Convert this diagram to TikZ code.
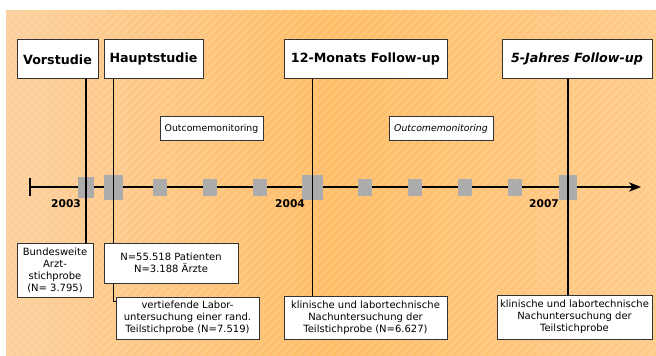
\documentclass[tikz,border=0pt]{standalone}
\usepackage{fontspec}
\setmainfont{DejaVu Sans}
\usetikzlibrary{arrows.meta,backgrounds,patterns.meta}
\definecolor{mkgray}{RGB}{172,172,172}
\definecolor{bgleft}{RGB}{252,208,158}
\definecolor{bgmid}{RGB}{255,190,104}
\definecolor{bgright}{RGB}{255,204,140}
\begin{document}
\begin{tikzpicture}[x=0.75pt,y=-0.75pt,
  box/.style={draw=black!80,fill=white,line width=0.75pt,inner sep=0pt,align=center,font=\fontsize{7.5}{9}\selectfont},
  title/.style={box,minimum height=29.25pt,font=\bfseries\fontsize{9.5}{11}\selectfont},
  note/.style={box,minimum height=18pt,font=\fontsize{7}{8}\selectfont},
  mk/.style={fill=mkgray,inner sep=0pt,minimum width=10.5pt,minimum height=12.75pt},
  year/.style={font=\bfseries\fontsize{8}{9}\selectfont}]
\useasboundingbox (0,0) rectangle (656,356);
\node[title,minimum width=60.75pt] (vs) at (57.5,59.5) {Vorstudie};
\node[title,minimum width=74.25pt] (hs) at (153.5,59.5) {Hauptstudie};
\node[title,minimum width=122.25pt] (mf) at (365.5,59.5) {12-Monats Follow-up};
\node[title,minimum width=112.5pt,font=\bfseries\itshape\fontsize{9.5}{11}\selectfont] (jf) at (577,59.5) {5-Jahres Follow-up};
\node[note,minimum width=77.25pt] (om1) at (211.5,129) {Outcomemonitoring};
\node[note,minimum width=78pt,font=\itshape\fontsize{7}{8}\selectfont] (om2) at (441,129) {Outcomemonitoring};
\node[box,minimum width=57pt,minimum height=40.5pt] (bw) at (55,270) {Bundesweite\\Arzt-\\stichprobe\\(N= 3.795)};
\node[box,minimum width=100.5pt,minimum height=30pt] (np) at (171,263) {N=55.518 Patienten\\N=3.188 Ärzte};
\node[box,minimum width=107.25pt,minimum height=31.5pt] (vl) at (187.5,318) {vertiefende Labor-\\untersuchung einer rand.\\Teilstichprobe (N=7.519)};
\node[box,minimum width=122.25pt,minimum height=32.25pt] (kl1) at (365.5,317.5) {klinische und labortechnische\\Nachuntersuchung der\\Teilstichprobe (N=6.627)};
\node[box,minimum width=116.25pt,minimum height=33pt] (kl2) at (574.5,317) {klinische und labortechnische\\Nachuntersuchung der\\Teilstichprobe};
\begin{scope}[on background layer]
  \shade[left color=bgleft,right color=bgright,middle color=bgmid] (6,11) rectangle (656,356);
  \fill[pattern={Lines[angle=45,distance=4pt,line width=0.35pt]},pattern color=white,opacity=0.3] (6,11) rectangle (656,356);
  \coordinate (t0) at (30,187);
  \coordinate (t1) at (641,187);
  \draw[line width=1.1pt,-{Stealth[length=9pt,width=7pt,inset=2.5pt]}] (t0) -- (t1);
  \draw[line width=1.1pt] (t0) ++(0,-9) -- ++(0,18);
  \node[mk,minimum width=12pt,minimum height=15.75pt] (m1) at (86,187.5) {};
  \node[mk,minimum width=14.25pt,minimum height=18.75pt] (m2) at (113.5,187.5) {};
  \node[mk,minimum width=15.75pt,minimum height=18.75pt] (m3) at (312.5,187.5) {};
  \node[mk,minimum width=13.5pt,minimum height=18.75pt] (m4) at (568,187.5) {};
  \foreach \x in {160,210,260,365,415,465,515}
    \node[mk] (s\x) at (\x,187.5) {};
  \draw[line width=0.8pt] (m1 |- vs.south) -- (m1 |- bw.north);
  \draw[line width=0.8pt] (m2 |- hs.south) |- ([yshift=-3.75pt]vl.north west);
  \draw[line width=0.8pt] (m3 |- mf.south) -- (m3 |- kl1.north);
  \draw[line width=0.8pt] (m4 |- jf.south) -- (m4 |- kl2.north);
  \node[year] (y3) at (66,204) {2003};
  \node[year] (y4) at (290,204) {2004};
  \node[year] (y7) at (544,204) {2007};
\end{scope}
\end{tikzpicture}
\end{document}
